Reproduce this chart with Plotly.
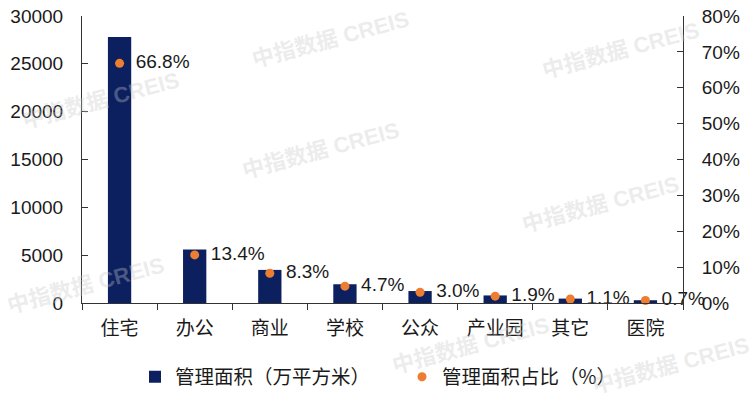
import plotly.graph_objects as go

categories = ["住宅", "办公", "商业", "学校", "公众", "产业园", "其它", "医院"]
area_values = [27800, 5590, 3460, 1960, 1250, 790, 460, 290]
share_values = [66.8, 13.4, 8.3, 4.7, 3.0, 1.9, 1.1, 0.7]
share_labels = ["66.8%", "13.4%", "8.3%", "4.7%", "3.0%", "1.9%", "1.1%", "0.7%"]
left_ticks = [0, 5000, 10000, 15000, 20000, 25000, 30000]
left_tick_labels = ["0", "5000", "10000", "15000", "20000", "25000", "30000"]
right_ticks = [0, 10, 20, 30, 40, 50, 60, 70, 80]
right_tick_labels = ["0%", "10%", "20%", "30%", "40%", "50%", "60%", "70%", "80%"]

FONT = "Liberation Sans, Arial, Noto Sans CJK SC, sans-serif"
CJK = "Noto Sans CJK SC, Liberation Sans, sans-serif"
NAVY = "#0c2060"
ORANGE = "#ed7d31"

fig = go.Figure()
fig.add_trace(go.Bar(
    x=categories, y=area_values, name="管理面积（万平方米）",
    marker=dict(color=NAVY, line=dict(width=0)), yaxis="y",
))
fig.add_trace(go.Scatter(
    x=categories, y=share_values, name="管理面积占比（%）",
    mode="markers+text", text=["\u2002" + s for s in share_labels],
    textposition="middle right",
    textfont=dict(size=19, color="#1a1a1a", family=FONT),
    marker=dict(color=ORANGE, size=9), yaxis="y2", cliponaxis=False,
))

L, R, T, B = 82, 69, 16, 94
W, H = 752, 397
pw, ph = W - L - R, H - T - B

# faint watermarks (pixel positions of their centres)
wm = [(100, 100), (330, 40), (620, 50), (320, 150), (600, 205), (85, 285), (470, 345), (670, 365)]
for (x, y) in wm:
    fig.add_annotation(x=(x - L) / pw, y=(H - B - y) / ph, xref="paper", yref="paper",
                       text="<b>中指数据 CREIS</b>", showarrow=False, textangle=-15,
                       font=dict(size=22, color="rgba(200,200,200,0.35)", family=FONT),
                       xanchor="center", yanchor="middle")

fig.update_layout(
    width=W, height=H,
    margin=dict(l=L, r=R, t=T, b=B, autoexpand=False),
    plot_bgcolor="white", paper_bgcolor="white",
    font=dict(family=FONT, size=19, color="#1a1a1a"),
    bargap=0.69,
    showlegend=True,
    legend=dict(orientation="h", x=(135 - L) / pw, xanchor="left", y=-0.19, yanchor="top",
                font=dict(size=19.5, family=CJK), itemwidth=30, entrywidth=222,
                entrywidthmode="pixels", tracegroupgap=0, traceorder="normal"),
    xaxis=dict(type="category", showline=True, linecolor="#333", linewidth=1,
               ticks="outside", tickson="boundaries", ticklen=6, tickcolor="#333",
               tickfont=dict(size=19), showgrid=False, zeroline=False,
               ticklabelstandoff=8, automargin=False),
    yaxis=dict(range=[0, 30000], tickvals=left_ticks, ticktext=left_tick_labels,
               showline=True, linecolor="#333",
               linewidth=1, ticks="inside", ticklen=6, tickcolor="#333",
               showgrid=False, zeroline=False, tickfont=dict(size=19),
               ticklabelstandoff=14, automargin=False),
    yaxis2=dict(range=[0, 80], tickvals=right_ticks, ticktext=right_tick_labels,
                overlaying="y", side="right", showline=True, linecolor="#333",
                linewidth=1, ticks="inside", ticklen=6, tickcolor="#333",
                showgrid=False, zeroline=False, tickfont=dict(size=19),
                ticklabelstandoff=14, automargin=False),
)
fig.write_html("out.html", config={"displayModeBar": False},
               post_script="document.body.style.margin='0px';")
